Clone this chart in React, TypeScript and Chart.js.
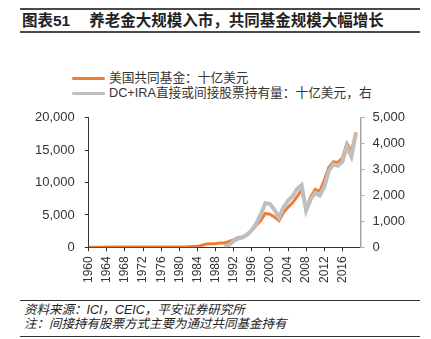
import React, { useEffect, useRef } from "react";
import { Chart, registerables } from "chart.js";

Chart.register(...registerables);

const years: number[] = [
  1960, 1961, 1962, 1963, 1964, 1965, 1966, 1967, 1968, 1969,
  1970, 1971, 1972, 1973, 1974, 1975, 1976, 1977, 1978, 1979,
  1980, 1981, 1982, 1983, 1984, 1985, 1986, 1987, 1988, 1989,
  1990, 1991, 1992, 1993, 1994, 1995, 1996, 1997, 1998, 1999,
  2000, 2001, 2002, 2003, 2004, 2005, 2006, 2007, 2008, 2009,
  2010, 2011, 2012, 2013, 2014, 2015, 2016, 2017, 2018, 2019,
];

// 美国共同基金（十亿美元，左轴）
const mutualFunds: number[] = [
  17, 23, 21, 25, 29, 35, 35, 45, 53, 48,
  48, 55, 59, 47, 36, 42, 47, 45, 45, 50,
  58, 55, 77, 113, 137, 330, 500, 540, 560, 650,
  680, 900, 1150, 1510, 1600, 2067, 2624, 3409, 4174, 5233,
  5119, 4690, 4118, 5362, 6194, 6864, 7806, 8914, 5788, 7797,
  8945, 8644, 10352, 12331, 13197, 13114, 13750, 16044, 14811, 17736,
];

// DC+IRA直接或间接股票持有量（十亿美元，右轴）
const dcIra: (number | null)[] = [
  null, null, null, null, null, null, null, null, null, null,
  null, null, null, null, null, null, null, null, null, null,
  null, null, null, null, null, null, null, null, null, null,
  20, 100, 240, 340, 380, 490, 660, 920, 1280, 1700,
  1680, 1450, 1150, 1550, 1800, 1970, 2250, 2400, 1420, 1850,
  2100, 2000, 2330, 2950, 3200, 3150, 3300, 3900, 3500, 4400,
];

const leftTicks = [0, 5000, 10000, 15000, 20000];
const rightTicks = [0, 1000, 2000, 3000, 4000, 5000];
const xTickYears = [1960, 1964, 1968, 1972, 1976, 1980, 1984, 1988, 1992, 1996, 2000, 2004, 2008, 2012, 2016];

const seriesNames = ["美国共同基金：十亿美元", "DC+IRA直接或间接股票持有量：十亿美元，右"];
const title = ["图表51", "养老金大规模入市，共同基金规模大幅增长"];
const notes = ["资料来源：ICI，CEIC，平安证券研究所", "注：间接持有股票方式主要为通过共同基金持有"];

const ORANGE = "#ED7D31";
const GRAY = "#BFBFBF";
const AXIS = "#333333";
const FONT = "'Liberation Sans', Arial, 'Noto Sans CJK SC', sans-serif";

export default function App() {
  const ref = useRef<HTMLCanvasElement | null>(null);

  useEffect(() => {
    if (!ref.current) return;
    const chart = new Chart(ref.current, {
      type: "line",
      data: {
        datasets: [
          {
            label: seriesNames[0],
            data: years.map((y, i) => ({ x: y, y: mutualFunds[i] })),
            borderColor: ORANGE,
            backgroundColor: ORANGE,
            borderWidth: 3,
            pointRadius: 0,
            tension: 0,
            yAxisID: "y",
            order: 1,
          },
          {
            label: seriesNames[1],
            data: years.map((y, i) => ({ x: y, y: dcIra[i] })) as any,
            borderColor: GRAY,
            backgroundColor: GRAY,
            borderWidth: 4,
            pointRadius: 0,
            tension: 0,
            spanGaps: false,
            yAxisID: "y1",
            order: 0,
          },
        ],
      },
      options: {
        animation: false,
        responsive: true,
        maintainAspectRatio: false,
        layout: { padding: { left: 25, right: 18, top: 14, bottom: 10 } },
        plugins: {
          legend: { display: false },
          tooltip: { enabled: false },
        },
        scales: {
          x: {
            type: "linear",
            min: 1960,
            max: 2020,
            afterBuildTicks: (axis: any) => {
              axis.ticks = xTickYears.map((v) => ({ value: v }));
            },
            ticks: {
              autoSkip: false,
              maxRotation: 90,
              minRotation: 90,
              padding: 5,
              color: AXIS,
              font: { family: FONT, size: 12 },
              callback: (v: any) => String(v),
            },
            grid: { drawOnChartArea: false, drawTicks: true, tickLength: 4, color: AXIS },
            border: { display: true, color: AXIS, width: 1 },
          },
          y: {
            position: "left",
            min: 0,
            max: 20000,
            afterBuildTicks: (axis: any) => {
              axis.ticks = leftTicks.map((v) => ({ value: v }));
            },
            ticks: {
              padding: 10,
              color: AXIS,
              font: { family: FONT, size: 13 },
              callback: (v: any) => Number(v).toLocaleString("en-US"),
            },
            grid: { drawOnChartArea: false, drawTicks: true, tickLength: 4, color: AXIS },
            border: { display: true, color: AXIS, width: 1 },
          },
          y1: {
            position: "right",
            min: 0,
            max: 5000,
            afterBuildTicks: (axis: any) => {
              axis.ticks = rightTicks.map((v) => ({ value: v }));
            },
            ticks: {
              padding: 8,
              color: AXIS,
              font: { family: FONT, size: 13 },
              callback: (v: any) => Number(v).toLocaleString("en-US"),
            },
            grid: { drawOnChartArea: false, drawTicks: true, tickLength: 4, color: "#A6A6A6" },
            border: { display: true, color: "#A6A6A6", width: 1.5 },
          },
        },
      },
    });
    return () => chart.destroy();
  }, []);

  const legendRow = (color: string, text: string, top: number, thick: number) => (
    <div style={{ position: "absolute", left: 72, top, height: 15, display: "flex", alignItems: "center" }}>
      <div style={{ width: 33, height: thick, background: color, borderRadius: 2 }} />
      <span style={{ marginLeft: 4, fontSize: 12.7, color: "#333", whiteSpace: "nowrap", lineHeight: "15px" }}>{text}</span>
    </div>
  );

  return (
    <div
      style={{
        position: "absolute",
        left: 0,
        top: 0,
        width: 431,
        height: 339,
        background: "#fff",
        fontFamily: FONT,
        overflow: "hidden",
      }}
    >
      <div style={{ position: "absolute", left: 20, top: 8, width: 400, height: 0, borderTop: "2px solid #4a4a4a" }} />
      <div
        style={{
          position: "absolute",
          left: 22,
          top: 11,
          fontSize: 15.5,
          fontWeight: "bold",
          color: "#222",
          whiteSpace: "nowrap",
          lineHeight: "20px",
        }}
      >
        <span>{title[0]}</span>
        <span style={{ marginLeft: 19 }}>{title[1]}</span>
      </div>
      <div style={{ position: "absolute", left: 20, top: 31, width: 400, height: 0, borderTop: "2px solid #4a4a4a" }} />

      {legendRow(ORANGE, seriesNames[0], 71, 3)}
      {legendRow(GRAY, seriesNames[1], 86, 3.5)}

      <div style={{ position: "absolute", left: 0, top: 100, width: 431, height: 198 }}>
        <canvas ref={ref} />
      </div>

      <div style={{ position: "absolute", left: 20, top: 300, width: 400, height: 0, borderTop: "1px solid #333" }} />
      <div
        style={{
          position: "absolute",
          left: 24,
          top: 304,
          fontSize: 12.5,
          fontStyle: "italic",
          color: "#222",
          lineHeight: "13.5px",
          whiteSpace: "nowrap",
        }}
      >
        <div>{notes[0]}</div>
        <div>{notes[1]}</div>
      </div>
      <div style={{ position: "absolute", left: 20, top: 336, width: 400, height: 0, borderTop: "1.5px solid #333" }} />
    </div>
  );
}
